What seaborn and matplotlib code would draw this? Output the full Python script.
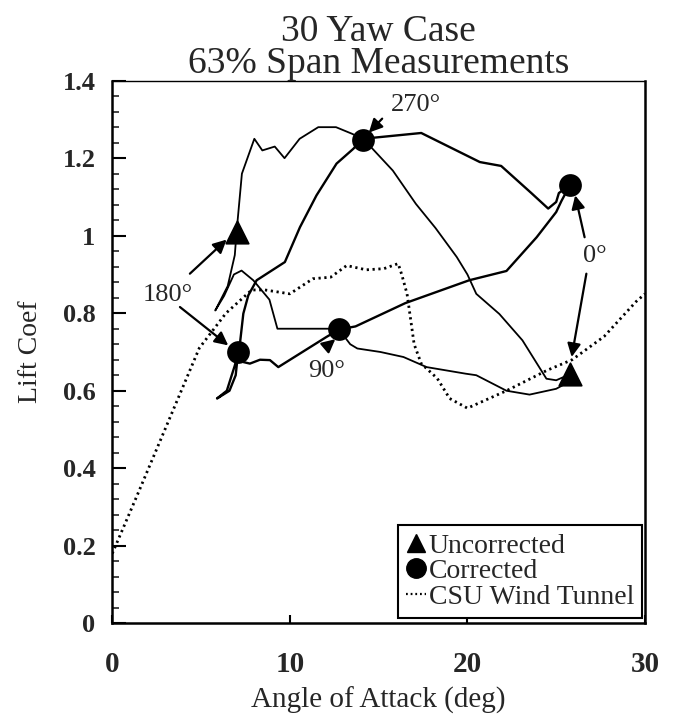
import numpy as np
import pandas as pd
import matplotlib
matplotlib.use("Agg")
import matplotlib.pyplot as plt
from matplotlib.lines import Line2D
from matplotlib.ticker import MultipleLocator
import seaborn as sns

# ---------------- data ----------------
# Uncorrected loop (angle of attack, lift coefficient), in azimuth order
unc_alpha = [7.0, 7.3, 8.0, 8.45, 9.15, 9.7, 10.55, 11.6, 12.6, 13.5, 14.1,
             14.5, 15.8, 17.1, 18.2, 19.4, 20.0, 20.5, 21.8, 23.1, 24.45, 25.0, 25.8,
             25.6, 25.0, 23.5, 22.2, 20.5, 19.9, 17.7, 16.4, 15.1, 13.8, 13.4, 12.9,
             12.2, 9.3, 8.85, 7.94, 7.28, 6.85, 6.3, 5.8, 6.5, 6.9, 7.0]
unc_cl = [1.01, 1.16, 1.25, 1.22, 1.23, 1.20, 1.25, 1.28, 1.28, 1.263, 1.25,
          1.232, 1.168, 1.082, 1.02, 0.945, 0.90, 0.85, 0.798, 0.73, 0.631, 0.627, 0.643,
          0.62, 0.605, 0.59, 0.60, 0.64, 0.644, 0.661, 0.687, 0.70, 0.709, 0.72, 0.75,
          0.76, 0.76, 0.835, 0.885, 0.91, 0.90, 0.845, 0.807, 0.87, 0.95, 1.01]

# Corrected loop
cor_alpha = [14.1, 17.4, 20.7, 21.9, 23.6, 24.55, 25.0, 25.15, 25.5, 25.77,
             25.3, 25.0, 23.9, 22.2, 20.1, 16.5, 13.7, 12.78, 12.07, 9.35, 8.88,
             8.32, 7.75, 7.38, 7.09, 6.95, 6.6, 5.9, 6.45, 6.9, 7.09, 7.19, 7.38,
             7.66, 8.13, 9.72, 10.57, 11.5, 12.63, 13.57, 14.1]
cor_cl = [1.25, 1.265, 1.19, 1.18, 1.11, 1.07, 1.087, 1.11, 1.122, 1.13,
          1.09, 1.061, 0.996, 0.909, 0.885, 0.826, 0.766, 0.758, 0.739, 0.661, 0.679,
          0.68, 0.670, 0.674, 0.70, 0.64, 0.60, 0.58, 0.60, 0.665, 0.70, 0.722, 0.799,
          0.846, 0.885, 0.932, 1.022, 1.104, 1.186, 1.224, 1.25]

# CSU wind tunnel data
csu_alpha = [0.0, 1.4, 4.9, 6.4, 7.85, 8.6, 9.3, 10.0, 10.6, 11.3, 12.3, 13.2,
             14.3, 15.3, 16.1, 16.3, 16.6, 17.0, 17.4, 18.3, 19.0, 20.0, 22.2,
             24.5, 25.9, 27.7, 29.5, 30.0]
csu_cl = [0.18, 0.33, 0.71, 0.80, 0.86, 0.86, 0.855, 0.85, 0.868, 0.889, 0.893, 0.923,
          0.912, 0.915, 0.928, 0.90, 0.85, 0.72, 0.67, 0.632, 0.58, 0.555, 0.60,
          0.653, 0.68, 0.74, 0.83, 0.85]

# Marked azimuth points
unc_mark_alpha = [7.0, 25.8]
unc_mark_cl = [1.01, 0.643]
cor_mark_alpha = [7.09, 12.78, 14.1, 25.77]
cor_mark_cl = [0.70, 0.758, 1.248, 1.13]

# Azimuth annotations: label, text pos, list of arrow (tail, head)
ann_labels = ["270°", "180°", "90°", "0°"]
ann_text = [(17.1, 1.338), (3.1, 0.846), (12.05, 0.650), (27.2, 0.947)]
ann_arrows = [
    [((15.2, 1.302), (14.45, 1.266))],
    [((4.37, 0.902), (6.44, 0.99)), ((3.81, 0.816), (6.53, 0.717))],
    [((12.07, 0.714), (12.56, 0.733))],
    [((26.6, 0.996), (26.07, 1.104)), ((26.7, 0.902), (25.87, 0.687))],
]

x_ticks = [0, 10, 20, 30]
y_ticks = [0, 0.2, 0.4, 0.6, 0.8, 1.0, 1.2, 1.4]
y_ticklabels = ["0", "0.2", "0.4", "0.6", "0.8", "1", "1.2", "1.4"]

# ---------------- plot ----------------
sns.set_style("ticks")
plt.rcParams["font.family"] = ["Liberation Serif", "DejaVu Serif"]

fig = plt.figure(figsize=(6.76, 7.17), dpi=100)
ax = fig.add_axes([0.1661, 0.1307, 0.788, 0.7568])

unc_df = pd.DataFrame({"alpha": unc_alpha, "cl": unc_cl})
cor_df = pd.DataFrame({"alpha": cor_alpha, "cl": cor_cl})
csu_df = pd.DataFrame({"alpha": csu_alpha, "cl": csu_cl})

sns.lineplot(data=csu_df, x="alpha", y="cl", sort=False, estimator=None, ax=ax,
             color="black", lw=2.0, linestyle=(0, (0.8, 1.3)))
sns.lineplot(data=unc_df, x="alpha", y="cl", sort=False, estimator=None, ax=ax,
             color="black", lw=1.3)
sns.lineplot(data=cor_df, x="alpha", y="cl", sort=False, estimator=None, ax=ax,
             color="black", lw=1.7)

sns.scatterplot(x=unc_mark_alpha, y=unc_mark_cl, marker="^", s=260, color="black",
                edgecolor="black", ax=ax, zorder=5)
sns.scatterplot(x=cor_mark_alpha, y=cor_mark_cl, marker="o", s=230, color="black",
                edgecolor="black", ax=ax, zorder=5)

for lab, tpos, arrows in zip(ann_labels, ann_text, ann_arrows):
    ax.text(tpos[0], tpos[1], lab, fontsize=19, ha="center", va="center", zorder=6)
    for tail, head in arrows:
        ax.annotate("", xy=head, xytext=tail,
                    arrowprops=dict(arrowstyle="-|>", color="black", lw=1.6,
                                    mutation_scale=20, shrinkA=0, shrinkB=0))

ax.set_xlim(0, 30)
ax.set_ylim(0, 1.4)
ax.set_xticks(x_ticks)
ax.set_xticklabels([str(t) for t in x_ticks])
ax.set_yticks(y_ticks)
ax.set_yticklabels(y_ticklabels)
ax.yaxis.set_minor_locator(MultipleLocator(0.04))

ax.tick_params(axis="both", which="major", direction="in",
               width=1.5, color="black")
ax.tick_params(axis="y", which="major", length=10, pad=12, labelsize=19)
ax.tick_params(axis="y", which="minor", direction="in", length=5, width=1.2)
ax.tick_params(axis="x", which="major", length=6, pad=20, labelsize=21)
for lab in ax.get_xticklabels() + ax.get_yticklabels():
    lab.set_fontweight("bold")

for side in ["left", "bottom", "right"]:
    ax.spines[side].set_linewidth(1.8)
ax.spines["top"].set_linewidth(1.0)
for s in ax.spines.values():
    s.set_color("black")

ax.set_xlabel("Angle of Attack (deg)", fontsize=21, labelpad=6)
ax.set_ylabel("Lift Coef", fontsize=20, labelpad=14)
ax.set_title("30 Yaw Case\n63% Span Measurements", fontsize=27, linespacing=0.88, pad=2)

handles = [
    Line2D([], [], marker="^", color="black", linestyle="none", markersize=13),
    Line2D([], [], marker="o", color="black", linestyle="none", markersize=14),
    Line2D([], [], color="black", lw=1.6, linestyle=(0, (0.8, 1.3))),
]
leg = ax.legend(handles, ["Uncorrected", "Corrected", "CSU Wind Tunnel"],
                loc="lower right", bbox_to_anchor=(0.995, 0.01), fontsize=20,
                frameon=True, fancybox=False, edgecolor="black", framealpha=1,
                handlelength=0.7, handletextpad=0.1, labelspacing=0.0,
                borderpad=0.3, borderaxespad=0.0)
leg.get_frame().set_linewidth(1.5)

fig.savefig("out.png", dpi=100)
